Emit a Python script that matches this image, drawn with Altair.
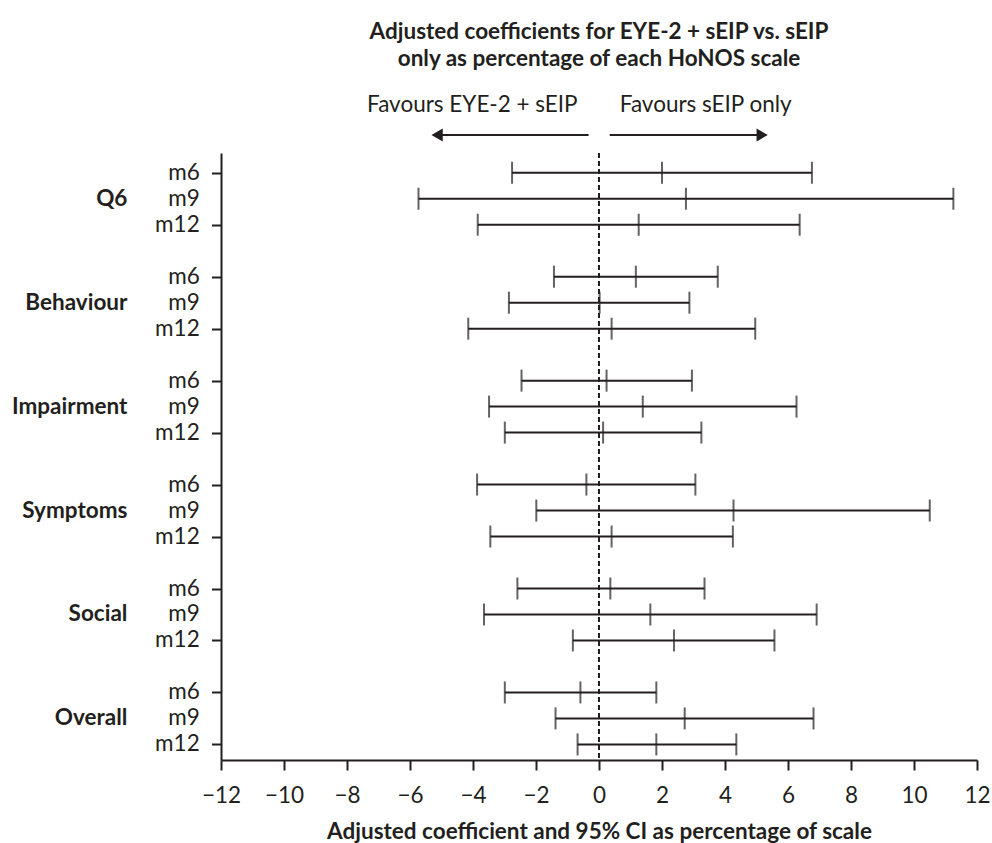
import altair as alt
import pandas as pd

groups = ["Q6", "Behaviour", "Impairment", "Symptoms", "Social", "Overall"]
periods = ["m6", "m9", "m12"]
est = [2.00, 2.76, 1.26, 1.17, 0.02, 0.40, 0.24, 1.39, 0.13,
       -0.40, 4.27, 0.40, 0.36, 1.63, 2.38, -0.59, 2.72, 1.82]
lo = [-2.76, -5.73, -3.85, -1.43, -2.86, -4.15, -2.46, -3.49, -2.99,
      -3.87, -1.99, -3.45, -2.59, -3.65, -0.83, -2.99, -1.38, -0.68]
hi = [6.76, 11.25, 6.37, 3.77, 2.87, 4.96, 2.95, 6.27, 3.25,
      3.06, 10.50, 4.25, 3.35, 6.91, 5.57, 1.82, 6.81, 4.36]

favour_text = ["Favours EYE-2 + sEIP", "Favours sEIP only"]
favour_x = [-0.68, 0.66]
arrow_start = [-0.33, 0.34]
arrow_head = [-5.14, 5.18]
arrow_shape = ["triangle-left", "triangle-right"]

INK = "#231f20"
FONT = "Lato"
FS = 22.5

rows = []
for gi, g in enumerate(groups):
    for pj, p in enumerate(periods):
        k = gi * 3 + pj
        rows.append({"group": g, "period": p, "idx": gi * 4 + pj,
                     "est": est[k], "lo": lo[k], "hi": hi[k]})
df = pd.DataFrame(rows)

gdf = pd.DataFrame({"group": groups, "idx": [gi * 4 + 1 for gi in range(len(groups))]})
fdf = pd.DataFrame({"text": favour_text, "x": favour_x})
adf = pd.DataFrame({"x": arrow_start, "x2": arrow_head, "shape": arrow_shape})

xscale = alt.Scale(domain=[-12, 12], nice=False, zero=False)
yscale = alt.Scale(domain=[-0.76, 22.6], reverse=True, nice=False, zero=False)

xaxis = alt.Axis(values=list(range(-12, 13)),
                 labelExpr="datum.value % 2 === 0 ? datum.label : ''",
                 tickSize=10, labelPadding=14, titlePadding=14,
                 title="Adjusted coefficient and 95% CI as percentage of scale",
                 titleFontSize=FS, titleFontWeight="bold", titleFont=FONT, titleColor=INK,
                 labelFontSize=FS, labelFont=FONT, labelColor=INK,
                 domainColor=INK, tickColor=INK, domainWidth=2, tickWidth=2,
                 grid=False, labelOverlap=False, labelFlush=False)
yaxis = alt.Axis(values=list(range(23)), labels=False,
                 tickSize=9.5, title=None,
                 domainColor=INK, tickColor=INK, domainWidth=2, tickWidth=2,
                 grid=False)

base = alt.Chart(df)

bars = base.mark_rule(color=INK, strokeWidth=2).encode(
    x=alt.X("lo:Q", scale=xscale, axis=xaxis),
    x2="hi:Q",
    y=alt.Y("idx:Q", scale=yscale, axis=yaxis),
)
tick_lo = base.mark_tick(orient="vertical", size=22, thickness=2, color=INK).encode(
    x="lo:Q", y="idx:Q")
tick_hi = base.mark_tick(orient="vertical", size=22, thickness=2, color=INK).encode(
    x="hi:Q", y="idx:Q")
tick_est = base.mark_tick(orient="vertical", size=22, thickness=2, color=INK).encode(
    x="est:Q", y="idx:Q")

plabels = base.mark_text(
    align="right", baseline="middle", fontSize=FS, font=FONT, color=INK
).encode(x=alt.value(-21.3), y="idx:Q", text="period:N")

zero = alt.Chart(pd.DataFrame({"v": [0]})).mark_rule(
    color=INK, strokeWidth=2, strokeDash=[5, 3]).encode(x="v:Q")

glabels = alt.Chart(gdf).mark_text(
    align="right", baseline="middle", fontWeight="bold", fontSize=FS, font=FONT, color=INK
).encode(x=alt.value(-93.6), y="idx:Q", text="group:N")

ftext_l = alt.Chart(fdf.iloc[[0]]).mark_text(
    align="right", baseline="alphabetic", fontSize=FS, font=FONT, color=INK
).encode(x="x:Q", y=alt.value(-41.3), text="text:N")
ftext_r = alt.Chart(fdf.iloc[[1]]).mark_text(
    align="left", baseline="alphabetic", fontSize=FS, font=FONT, color=INK
).encode(x="x:Q", y=alt.value(-41.3), text="text:N")

arrows = alt.Chart(adf).mark_rule(color=INK, strokeWidth=2).encode(
    x="x:Q", x2="x2:Q", y=alt.value(-18))
heads = alt.Chart(adf).mark_point(filled=True, size=169, color=INK, opacity=1).encode(
    x="x2:Q", y=alt.value(-18),
    shape=alt.Shape("shape:N", scale=None, legend=None))

chart = alt.layer(
    zero, bars, tick_lo, tick_hi, tick_est, plabels, glabels, ftext_l, ftext_r, arrows, heads
).properties(
    width=756, height=607,
    title=alt.TitleParams(
        text=["Adjusted coefficients for EYE-2 + sEIP vs. sEIP",
              "only as percentage of each HoNOS scale"],
        fontSize=FS, fontWeight="bold", font=FONT, color=INK,
        lineHeight=27, anchor="middle", frame="group", offset=23),
    autosize=alt.AutoSizeParams(type="none"),
    padding={"left": 221, "top": 153, "right": 15, "bottom": 83},
).configure(font=FONT, background="white").configure_view(stroke=None)

chart.save("out.html", embed_options={"renderer": "svg", "actions": False})
